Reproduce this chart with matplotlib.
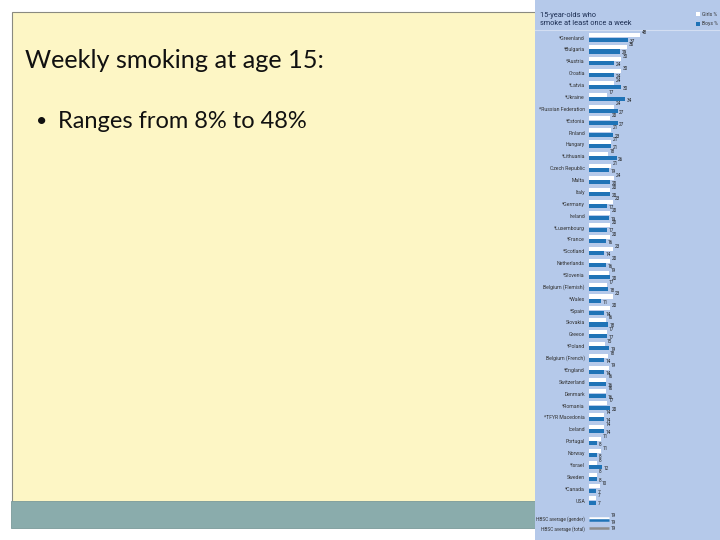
import matplotlib.pyplot as plt
from matplotlib.patches import Rectangle

countries = ["*Greenland", "*Bulgaria", "*Austria", "Croatia", "*Latvia", "*Ukraine",
             "*Russian Federation", "*Estonia", "Finland", "Hungary", "*Lithuania",
             "Czech Republic", "Malta", "Italy", "*Germany", "Ireland", "*Luxembourg",
             "*France", "*Scotland", "Netherlands", "*Slovenia", "Belgium (Flemish)",
             "*Wales", "*Spain", "Slovakia", "Greece", "*Poland", "Belgium (French)",
             "*England", "Switzerland", "Denmark", "*Romania", "*TFYR Macedonia",
             "Iceland", "Portugal", "Norway", "*Israel", "Sweden", "*Canada", "USA"]
girls = [48, 36, 30, 30, 24, 17, 24, 20, 21, 21, 18, 21, 24, 20, 23, 20, 20, 20, 23, 20,
         19, 17, 23, 20, 16, 17, 15, 18, 19, 16, 16, 17, 14, 14, 11, 11, 8, 8, 10, 7]
boys = [37, 29, 24, 24, 30, 34, 27, 27, 23, 21, 26, 19, 20, 20, 17, 19, 17, 16, 14, 16,
        20, 18, 11, 14, 18, 17, 19, 14, 14, 16, 16, 20, 14, 14, 8, 8, 12, 8, 7, 7]
avg_girls = 19
avg_boys = 19
avg_total = 19

title = "Weekly smoking at age 15:"
bullet = "Ranges from 8% to 48%"

small = "Roboto"

W, H = 720, 540
fig = plt.figure(figsize=(W / 100, H / 100), dpi=100)
fig.patch.set_facecolor("white")

# fond de la diapo, en pixels
bg = fig.add_axes([0, 0, 1, 1])
bg.set_xlim(0, W)
bg.set_ylim(H, 0)
bg.axis("off")
bg.add_patch(Rectangle((12, 12), 530, 490, facecolor="#fdf6c5", edgecolor="#8a8a80", lw=0.8))
bg.add_patch(Rectangle((11, 501), 531, 27, facecolor="#8aacac", edgecolor="#7a9a9a", lw=0.6))
bg.add_patch(Rectangle((535, 0), 185, 540, facecolor="#b5c9ea", edgecolor="none"))
bg.plot([535, 720], [29.5, 29.5], color="#d3def2", lw=0.8)
bg.text(25, 61, title, fontsize=18.2, family="Lato", va="center", color="#111111")
bg.text(36, 121, "\u2022", fontsize=14, family="Lato", va="center", color="#111111")
bg.text(58, 121, bullet, fontsize=17, family="Lato", va="center", color="#111111")

bg.text(540, 19.5, "15-year-olds who\nsmoke at least once a week", fontsize=5.3,
        family=small, va="center", color="#1b2d52", linespacing=1.15)
bg.add_patch(Rectangle((696, 12), 4, 4, facecolor="white", edgecolor="none"))
bg.add_patch(Rectangle((696, 22), 4, 4, facecolor="#1f73b7", edgecolor="none"))
bg.text(702, 14, "Girls %", fontsize=3.6, family=small, va="center", color="#333333")
bg.text(702, 24, "Boys %", fontsize=3.6, family=small, va="center", color="#333333")

# graphique en barres
x0, scale = 589, 1.06
row0, pitch = 37.5, 11.87
ax = fig.add_axes([x0 / W, 0, (W - x0) / W, 1])
ax.set_xlim(0, (W - x0) / scale)
ax.set_ylim((H - row0) / pitch, -row0 / pitch)
ax.axis("off")

rows = list(range(len(countries)))
ax.barh([r - 0.18 for r in rows], girls, height=0.34, color="white")
ax.barh([r + 0.18 for r in rows], boys, height=0.34, color="#1f73b7")
for r, name, g, b in zip(rows, countries, girls, boys):
    ax.text(-3.8, r + 0.05, name, fontsize=3.7, family=small, ha="right", va="center", color="#333333")
    ax.text(g + 1.5, r - 0.4, str(g), fontsize=3.4, family=small, va="center", color="#222222")
    ax.text(b + 1.5, r + 0.3, str(b), fontsize=3.4, family=small, va="center", color="#222222")

yg, yt = 40.55, 41.35
ax.hlines(yg - 0.08, 0, avg_girls, color="white", lw=1.8)
ax.hlines(yg + 0.12, 0, avg_boys, color="#1f73b7", lw=1.8)
ax.hlines(yt, 0, avg_total, color="#8c8c8c", lw=1.8)
ax.text(-3.8, yg + 0.05, "HBSC average (gender)", fontsize=3.4, family=small, ha="right", va="center", color="#333333")
ax.text(-3.8, yt + 0.05, "HBSC average (total)", fontsize=3.4, family=small, ha="right", va="center", color="#333333")
ax.text(avg_girls + 1.5, yg - 0.3, str(avg_girls), fontsize=3.4, family=small, va="center", color="#222222")
ax.text(avg_boys + 1.5, yg + 0.3, str(avg_boys), fontsize=3.4, family=small, va="center", color="#222222")
ax.text(avg_total + 1.5, yt + 0.05, str(avg_total), fontsize=3.4, family=small, va="center", color="#222222")

fig.savefig("out.png", dpi=100)
